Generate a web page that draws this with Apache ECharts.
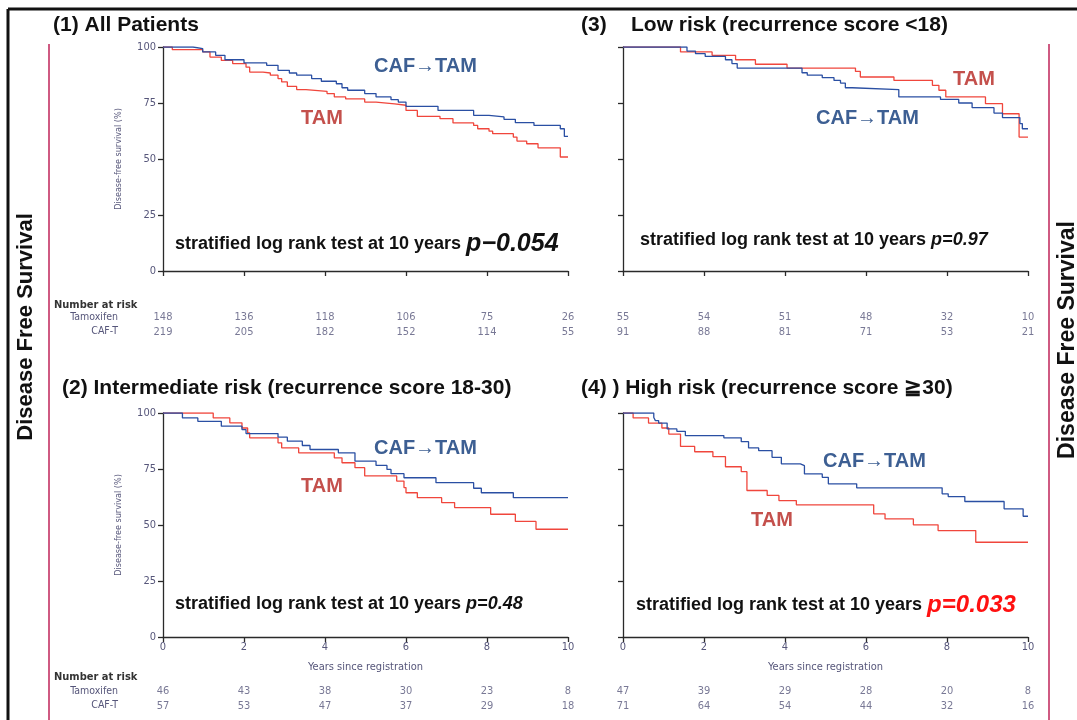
<!DOCTYPE html>
<html><head><meta charset="utf-8">
<script src="https://cdn.jsdelivr.net/npm/echarts@6/dist/echarts.min.js"></script>
<style>html,body{margin:0;padding:0;background:#fff}#c{width:1077px;height:720px}</style>
</head><body><div id="c"></div>
<script>
// ---- Kaplan-Meier step data [years, % disease-free] ----
var p1Tam = [[0,100],[0.23,98.8],[0.98,97.8],[1.16,95.5],[1.44,94],[1.72,92.6],[2.05,91],[2.14,88.8],[2.47,88.4],[2.65,87.4],[2.84,85.9],[2.93,84.4],[3.07,82.4],[3.30,81],[3.53,80.2],[4.05,79.2],[4.23,77.7],[4.51,76.8],[4.98,75.4],[5.26,74.6],[5.72,74],[6.0,71.7],[6.28,69],[6.84,68],[7.16,66.1],[7.67,65],[7.77,63.5],[8.05,62.4],[8.14,61.3],[8.65,59.8],[8.74,58],[8.98,56.8],[9.26,55],[9.81,50.9],[10,50.9]];
var p1Caf = [[0,100],[0.74,99.3],[0.98,97.8],[1.30,96.3],[1.53,94.3],[2.0,92.9],[2.56,91.8],[2.84,89.6],[3.12,88.4],[3.30,87.4],[3.67,85.9],[3.91,84.7],[4.28,83.6],[4.42,81.8],[4.56,80.7],[4.98,79.2],[5.26,77.7],[5.63,76.5],[5.81,75.4],[6.0,73.5],[6.79,71.7],[7.67,69.5],[8.05,68.8],[8.42,67.7],[8.70,66.2],[9.16,65],[9.81,63.5],[9.91,60.1],[10,60.1]];
var p2Tam = [[0,100],[1.24,97.8],[1.65,95.6],[1.95,93.3],[2.09,91.1],[2.14,88.9],[2.84,86.7],[2.93,84.4],[3.35,82.2],[4.23,80],[4.42,77.8],[4.74,75.6],[4.98,71.9],[5.77,69.6],[5.95,66.7],[6.0,64.4],[6.28,62.2],[6.88,60],[7.2,57.8],[8.09,54.8],[8.7,51.6],[9.21,48.1],[10,48.1]];
var p2Caf = [[0,100],[0.48,97.8],[0.86,96.3],[1.44,94.1],[1.95,92.6],[2.05,90.8],[2.84,89.2],[3.07,87.4],[3.44,85.5],[3.63,83.7],[4.33,82.2],[4.74,78.5],[5.26,76.6],[5.53,74.8],[5.63,72.9],[5.95,71.1],[6.74,68.9],[7.67,66.4],[7.86,64.4],[8.65,62.2],[10,62.2]];
var p3Tam = [[0,100],[1.42,97.8],[2.2,96.3],[2.78,94.3],[3.27,92.3],[4.05,90.6],[5.74,89.1],[5.86,86.6],[6.69,85.1],[7.64,82.9],[7.8,80.7],[7.97,77.7],[8.95,74.7],[9.37,70.2],[9.78,59.8],[10,59.8]];
var p3Caf = [[0,100],[1.58,98.2],[1.79,97.0],[2.03,95.8],[2.53,94.3],[2.69,92.6],[2.82,90.6],[4.42,88.5],[4.55,87.4],[4.92,86.3],[5.21,85.1],[5.37,83.9],[5.49,81.8],[5.66,81.0],[6.81,77.7],[7.84,76.6],[8.29,75],[8.62,72.9],[9.16,70.5],[9.37,68.5],[9.80,65.8],[9.86,63.5],[10,63.5]];
var p4Tam = [[0,100],[0.25,97.8],[0.63,95.5],[0.96,93.3],[1.13,90.6],[1.42,85.1],[1.77,82.7],[2.22,80.5],[2.53,76],[2.92,73.8],[3.06,65.4],[3.56,63.2],[3.85,60.9],[4.28,59],[6.19,55],[6.47,52.7],[7.17,50.1],[7.78,47.5],[8.71,42.3],[10,42.3]];
var p4Caf = [[0,100],[0.76,98],[0.8,96.6],[0.88,95.5],[1.09,92.9],[1.33,91.8],[1.54,89.9],[2.49,88.9],[2.92,87.2],[3.1,84.4],[3.35,83.2],[3.68,80.2],[3.91,77.3],[4.38,76.5],[4.48,72.8],[4.92,71.3],[5.07,68.4],[5.77,66.6],[7.88,63.9],[8.03,62.7],[8.44,60.5],[9.41,57.2],[9.88,53.9],[10,53.9]];

// ---- Number at risk ----
var riskYears = [0,2,4,6,8,10];
var riskRows = ['Tamoxifen','CAF-T'];
var risk1Tam = [148,136,118,106,75,26];
var risk1Caf = [219,205,182,152,114,55];
var risk2Tam = [46,43,38,30,23,8];
var risk2Caf = [57,53,47,37,29,18];
var risk3Tam = [55,54,51,48,32,10];
var risk3Caf = [91,88,81,71,53,21];
var risk4Tam = [47,39,29,28,20,8];
var risk4Caf = [71,64,54,44,32,16];

// ---- text ----
var pValues = ['p\u22120.054','p=0.48','p=0.97','p=0.033'];

var NARROW = '"Liberation Sans Narrow","DejaVu Sans Condensed","Roboto Condensed",sans-serif';
var BOLD = '"Liberation Sans",Arial,sans-serif';
var TICKC = '#56567a';
var BLUE = '#2a4fa3', RED = '#f0463c';

var panels = [
  {left:163, top:47,  riskTop:310, tam:p1Tam, caf:p1Caf, rT:risk1Tam, rC:risk1Caf, yLab:true,  xLab:false},
  {left:163, top:413, riskTop:684, tam:p2Tam, caf:p2Caf, rT:risk2Tam, rC:risk2Caf, yLab:true,  xLab:true},
  {left:623, top:47,  riskTop:310, tam:p3Tam, caf:p3Caf, rT:risk3Tam, rC:risk3Caf, yLab:false, xLab:false},
  {left:623, top:413, riskTop:684, tam:p4Tam, caf:p4Caf, rT:risk4Tam, rC:risk4Caf, yLab:false, xLab:true}
];

var grid=[], xAxis=[], yAxis=[], series=[];
var axLine = {show:true, onZero:false, lineStyle:{color:'#2a2a2a', width:1.3}};
var axTick = {show:true, length:5, lineStyle:{color:'#2a2a2a', width:1.3}};
panels.forEach(function(p, i){
  grid.push({left:p.left, top:p.top, width:405, height:224, containLabel:false, outerBoundsMode:'none'});
  grid.push({left:p.left, top:p.riskTop, width:405, height:29, containLabel:false, outerBoundsMode:'none'});
  var gi = i*2, ri = i*2+1;
  xAxis.push({type:'value', gridIndex:gi, min:0, max:10, interval:2,
    axisLine:axLine, axisTick:axTick, splitLine:{show:false},
    axisLabel:{show:p.xLab, color:TICKC, fontSize:11, margin:5, fontFamily:NARROW},
    name:p.xLab?'Years since registration':'', nameLocation:'middle', nameGap:25,
    nameTextStyle:{color:TICKC, fontSize:11, fontFamily:NARROW}});
  yAxis.push({type:'value', gridIndex:gi, min:0, max:100, interval:25,
    axisLine:axLine, axisTick:axTick, splitLine:{show:false},
    axisLabel:{show:p.yLab, color:TICKC, fontSize:11, margin:7, fontFamily:NARROW},
    name:p.yLab?'Disease-free survival (%)':'', nameLocation:'middle', nameGap:40,
    nameTextStyle:{color:TICKC, fontSize:9, fontFamily:NARROW}});
  xAxis.push({type:'value', gridIndex:ri, min:0, max:10, show:false});
  yAxis.push({type:'category', gridIndex:ri, data:riskRows, inverse:true,
    axisLine:{show:false}, axisTick:{show:false}, splitLine:{show:false},
    axisLabel:{show:p.yLab, color:TICKC, fontSize:10.5, margin:45, fontFamily:NARROW}});
  series.push({type:'line', xAxisIndex:gi, yAxisIndex:gi, data:p.tam, step:'end', showSymbol:false, symbol:'none',
    lineStyle:{color:RED, width:1.3}, silent:true, z:2});
  series.push({type:'line', xAxisIndex:gi, yAxisIndex:gi, data:p.caf, step:'end', showSymbol:false, symbol:'none',
    lineStyle:{color:BLUE, width:1.3}, silent:true, z:3});
  [[riskRows[0], p.rT],[riskRows[1], p.rC]].forEach(function(r){
    series.push({type:'scatter', xAxisIndex:ri, yAxisIndex:ri, symbolSize:1, silent:true,
      itemStyle:{color:'rgba(0,0,0,0)'},
      data: riskYears.map(function(yr, k){ return [yr, r[0], r[1][k]]; }),
      label:{show:true, position:'inside', color:TICKC, fontSize:11, fontFamily:NARROW,
        formatter:function(q){ return q.data[2]; }}});
  });
});

function txt(x, y, s, font, fill, extra){
  var st = {text:s, font:font, fill:fill, align:'left', textAlign:'left', verticalAlign:'middle', textVerticalAlign:'middle'};
  if (extra) for (var k in extra) st[k]=extra[k];
  return {type:'text', x:x, y:y, style:st, silent:true, z:10};
}
function lrt(x, y, p, pSize, pColor){
  return {type:'text', x:x, y:y, silent:true, z:10, style:{
    text:'{a|stratified log rank test at 10 years }{b|'+p+'}',
    verticalAlign:'middle', textVerticalAlign:'middle', align:'left', textAlign:'left',
    rich:{a:{font:'bold 18px '+BOLD, fill:'#111', color:'#111'},
          b:{font:'italic bold '+pSize+'px '+BOLD, fill:pColor, color:pColor}}}};
}
var TF = 'bold 21px '+BOLD;
var LF = 'bold 20px '+BOLD;
var CAFC = '#3d5f93', TAMC = '#c4504c';
var graphic = [
  {type:'line', shape:{x1:8, y1:9, x2:1077, y2:9}, style:{stroke:'#111', lineWidth:3}, silent:true},
  {type:'line', shape:{x1:8, y1:9, x2:8, y2:720}, style:{stroke:'#111', lineWidth:3}, silent:true},
  {type:'line', shape:{x1:49, y1:44, x2:49, y2:720}, style:{stroke:'#cf5a82', lineWidth:2}, silent:true},
  {type:'line', shape:{x1:1049, y1:44, x2:1049, y2:720}, style:{stroke:'#cf5a82', lineWidth:2}, silent:true},
  {type:'text', x:26, y:327, rotation:Math.PI/2, silent:true, z:10,
    style:{text:'Disease Free Survival', font:'bold 22px '+BOLD, fill:'#111', align:'center', textAlign:'center', verticalAlign:'middle', textVerticalAlign:'middle'}},
  {type:'text', x:1068, y:340, rotation:Math.PI/2, silent:true, z:10,
    style:{text:'Disease Free Survival', font:'bold 23px '+BOLD, fill:'#111', align:'center', textAlign:'center', verticalAlign:'middle', textVerticalAlign:'middle'}},
  txt(53, 25, '(1) All Patients', TF, '#111'),
  txt(581, 25, '(3)', TF, '#111'),
  txt(631, 25, 'Low risk (recurrence score <18)', TF, '#111'),
  txt(62, 388, '(2) Intermediate risk (recurrence score 18-30)', TF, '#111'),
  txt(581, 388, '(4) ) High risk (recurrence score \u226730)', TF, '#111'),
  txt(374, 66, 'CAF\u2192TAM', LF, CAFC), txt(301, 118, 'TAM', LF, TAMC),
  txt(816, 118, 'CAF\u2192TAM', LF, CAFC), txt(953, 79, 'TAM', LF, TAMC),
  txt(374, 448, 'CAF\u2192TAM', LF, CAFC), txt(301, 486, 'TAM', LF, TAMC),
  txt(823, 461, 'CAF\u2192TAM', LF, CAFC), txt(751, 520, 'TAM', LF, TAMC),
  lrt(175, 244, pValues[0], 25, '#111'),
  lrt(640, 240, pValues[2], 18, '#111'),
  lrt(175, 604, pValues[1], 18, '#111'),
  lrt(636, 605, pValues[3], 24, '#ff1111'),
  txt(54, 305, 'Number at risk', 'bold 11px '+NARROW, '#333'),
  txt(54, 677, 'Number at risk', 'bold 11px '+NARROW, '#333')
];

var chart = echarts.init(document.getElementById('c'), null, {renderer:'canvas'});
chart.setOption({animation:false, backgroundColor:'#fff', grid:grid, xAxis:xAxis, yAxis:yAxis, series:series, graphic:graphic});
</script></body></html>
